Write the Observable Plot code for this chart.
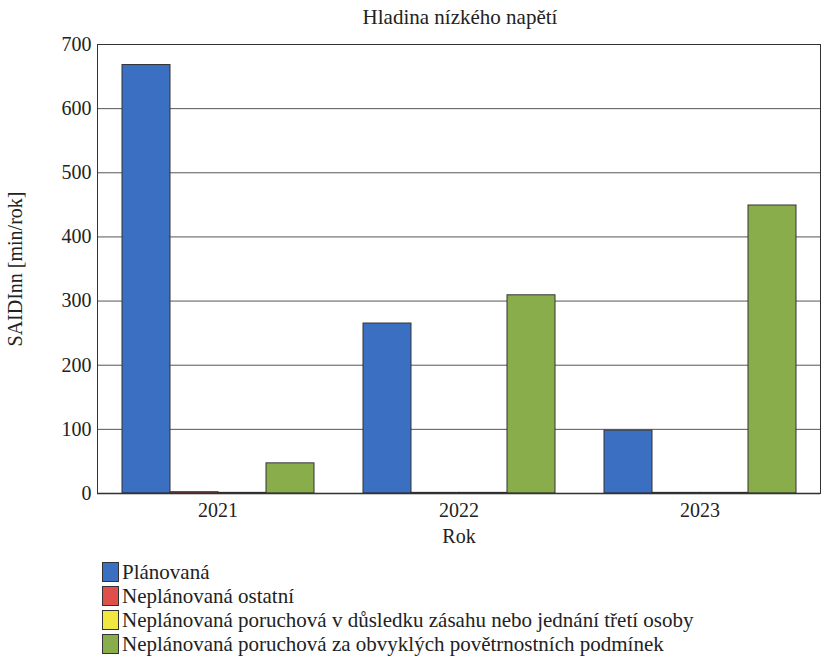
<!DOCTYPE html>
<html>
<head>
<meta charset="utf-8">
<script src="https://cdn.jsdelivr.net/npm/d3@7"></script>
<script src="https://cdn.jsdelivr.net/npm/@observablehq/plot@0.6"></script>
<style>
  body { margin: 0; background: #fff; font-family: "Liberation Serif", "Times New Roman", serif; color: #222; }
  #wrap { width: 823px; }
  #title { height: 24px; box-sizing: border-box; padding-top: 6px; font-size: 21px; line-height: 22px; text-align: center; padding-left: 97px; }
  #legend { margin-top: 12px; padding-left: 102px; }
  .row { display: flex; align-items: center; height: 24px; font-size: 21px; }
  .sw { width: 17px; height: 20px; border: 1px solid #333; margin-right: 3px; box-sizing: border-box; }
</style>
</head>
<body>
<div id="wrap">
  <div id="title">Hladina nízkého napětí</div>
  <div id="chart"></div>
  <div id="legend"></div>
</div>
<script>
const years = ["2021", "2022", "2023"];
const series = [
  "Plánovaná",
  "Neplánovaná ostatní",
  "Neplánovaná poruchová v důsledku zásahu nebo jednání třetí osoby",
  "Neplánovaná poruchová za obvyklých povětrnostních podmínek"
];
const planovana = [668, 265, 98];
const ostatni = [2, 1, 1];
const tretiOsoby = [1, 1, 1];
const povetrnostni = [47, 309, 449];
const colors = ["#3b6fc1", "#e0504a", "#f2e640", "#8aad4c"];
const yTicks = [0, 100, 200, 300, 400, 500, 600, 700];
const subtitle = "Hladina nízkého napětí";
const yLabel = "SAIDInn [min/rok]";
const xLabel = "Rok";

const seriesValues = [planovana, ostatni, tretiOsoby, povetrnostni];
const data = [];
years.forEach((y, i) => series.forEach((s, j) => data.push({year: y, series: s, value: seriesValues[j][i]})));

const chart = Plot.plot({
  width: 823,
  height: 524,
  marginTop: 20,
  marginLeft: 97,
  marginRight: 3,
  marginBottom: 55,
  style: {fontFamily: "'Liberation Serif', 'Times New Roman', serif", fontSize: "20px", color: "#222", background: "#fff"},
  fx: {domain: years, padding: 0},
  x: {domain: series, paddingInner: 0, paddingOuter: 0.472, axis: null},
  y: {domain: [0, 700]},
  color: {domain: series, range: colors},
  marks: [
    Plot.gridY(yTicks, {stroke: "#555", strokeOpacity: 1, strokeWidth: 1}),
    Plot.axisY(yTicks, {tickSize: 0, tickPadding: 6, label: yLabel, labelAnchor: "center", labelArrow: "none", labelOffset: 90, fontSize: 20}),
    Plot.axisFx({anchor: "bottom", tickSize: 0, tickPadding: 9, label: xLabel, labelAnchor: "center", labelArrow: "none", labelOffset: 49, fontSize: 20}),
    Plot.barY(data, {fx: "year", x: "series", y: "value", fill: "series", stroke: "#333", strokeWidth: 1}),
    Plot.ruleY([0], {stroke: "#222", strokeWidth: 1.5}),
    Plot.frame({facet: "super", stroke: "#333", strokeWidth: 1})
  ]
});
document.getElementById("chart").appendChild(chart);

const legend = d3.select("#legend");
series.forEach((s, i) => {
  const r = legend.append("div").attr("class", "row");
  r.append("div").attr("class", "sw").style("background", colors[i]);
  r.append("span").text(s);
});
</script>
</body>
</html>
